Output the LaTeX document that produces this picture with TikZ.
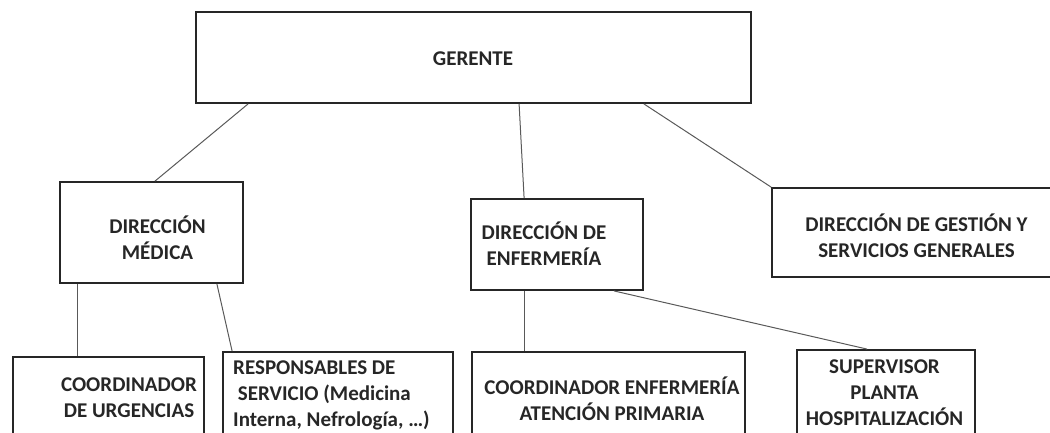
\documentclass[tikz,border=0pt]{standalone}
\usepackage{fontspec}
\setmainfont{Carlito}
\usepackage{tikz}

\begin{document}
\begin{tikzpicture}[x=1pt,y=1pt,
		box/.style={draw=black!85,line width=1.8pt,rectangle,inner sep=0pt},
		txt/.style={font=\bfseries\fontsize{21}{26}\selectfont,align=center,text=black!85,inner sep=0pt},
		con/.style={draw=black!65,line width=1pt}]
		\useasboundingbox (0,0) rectangle (1050,432);
		\clip (0,0) rectangle (1050,432);

		\node[box,minimum width=555pt,minimum height=91pt] (GER) at (473.5,374.5) {};
		\node[box,minimum width=183pt,minimum height=101pt] (DM) at (151.5,199.5) {};
		\node[box,minimum width=172pt,minimum height=91pt] (DE) at (557,187.5) {};
		\node[box,minimum width=289pt,minimum height=89pt] (DG) at (916.5,199.5) {};
		\node[box,minimum width=191pt,minimum height=83pt] (CU) at (108.5,33.5) {};
		\node[box,minimum width=230pt,minimum height=88pt] (RS) at (338,36) {};
		\node[box,minimum width=273pt,minimum height=93pt] (CE) at (608.5,33.5) {};
		\node[box,minimum width=178pt,minimum height=90pt] (SP) at (886,37) {};

		\node[txt] (GERtxt) at (473,373) {GERENTE};
		\node[txt] (DMtxt) at (157.5,194) {DIRECCIÓN\\MÉDICA};
		\node[txt] (DEtxt) at (544,188.5) {DIRECCIÓN DE\\ENFERMERÍA};
		\node[txt] (DGtxt) at (916.5,196) {DIRECCIÓN DE GESTIÓN Y\\SERVICIOS GENERALES};
		\node[txt] (CUtxt) at (129,34.5) {COORDINADOR\\DE URGENCIAS};
		\node[txt,align=left,anchor=west] (RStxt) at (233,37) {RESPONSABLES DE\\\ SERVICIO (Medicina\\Interna, Nefrología, …)};
		\node[txt] (CEtxt) at (612,33.5) {COORDINADOR ENFERMERÍA\\ATENCIÓN PRIMARIA};
		\node[txt] (SPtxt) at (884.5,39) {SUPERVISOR\\PLANTA\\HOSPITALIZACIÓN};

		\draw[con] ([xshift=53pt]GER.south west) -- ([xshift=3.5pt]DM.north);
		\draw[con] ([xshift=324pt]GER.south west) -- ([xshift=54pt]DE.north west);
		\draw[con] ([xshift=-108pt]GER.south east) -- (DG.north west);
		\draw[con] ([xshift=18pt]DM.south west) -- ([xshift=65pt]CU.north west);
		\draw[con] ([xshift=-27pt]DM.south east) -- ([xshift=10pt]RS.north west);
		\draw[con] ([xshift=54pt]DE.south west) -- ([xshift=53pt]CE.north west);
		\draw[con] ([xshift=-30pt]DE.south east) -- ([xshift=71pt]SP.north west);
	    \end{tikzpicture}
\end{document}
